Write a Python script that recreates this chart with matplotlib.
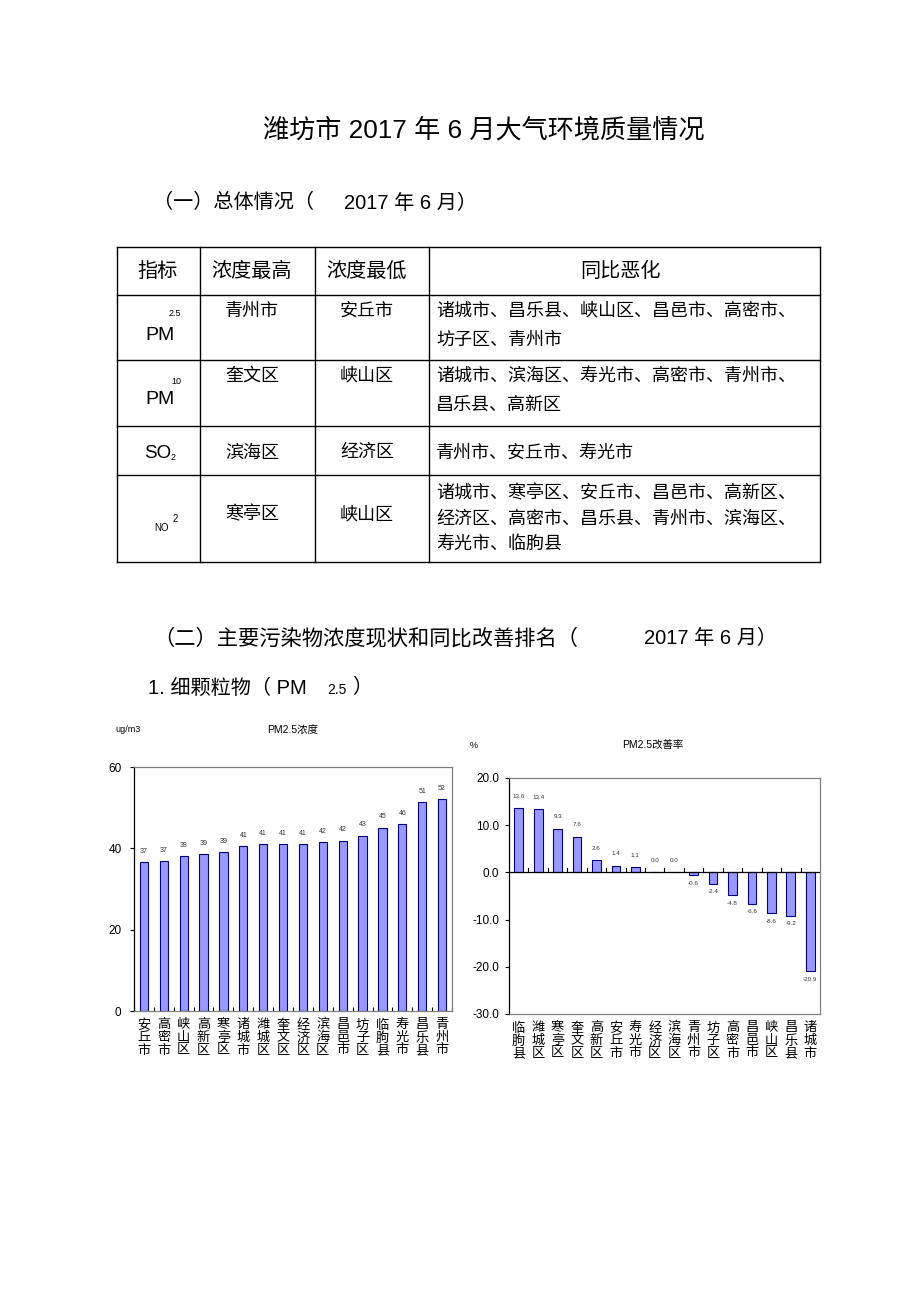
import matplotlib
matplotlib.use('Agg')
import matplotlib.pyplot as plt
import numpy as np

plt.rcParams['font.family'] = ['Liberation Sans', 'Noto Sans CJK SC', 'DejaVu Sans']
plt.rcParams['axes.unicode_minus'] = False

# ---- data ----
conc_names = ['安丘市', '高密市', '峡山区', '高新区', '寒亭区', '诸城市', '潍城区', '奎文区',
              '经济区', '滨海区', '昌邑市', '坊子区', '临朐县', '寿光市', '昌乐县', '青州市']
conc_vals = [36.6, 36.8, 38.1, 38.6, 39.1, 40.6, 41.0, 41.0,
             41.0, 41.5, 41.9, 43.1, 45.1, 46.0, 51.4, 52.1]

rate_names = ['临朐县', '潍城区', '寒亭区', '奎文区', '高新区', '安丘市', '寿光市', '经济区',
              '滨海区', '青州市', '坊子区', '高密市', '昌邑市', '峡山区', '昌乐县', '诸城市']
rate_vals = [13.6, 13.4, 9.3, 7.6, 2.6, 1.4, 1.1, 0.0,
             0.0, -0.6, -2.4, -4.8, -6.6, -8.6, -9.2, -20.9]

table_head = ['指标', '浓度最高', '浓度最低', '同比恶化']
table_high = ['青州市', '奎文区', '滨海区', '寒亭区']
table_low = ['安丘市', '峡山区', '经济区', '峡山区']
table_worse = [['诸城市、昌乐县、峡山区、昌邑市、高密市、', '坊子区、青州市'],
               ['诸城市、滨海区、寿光市、高密市、青州市、', '昌乐县、高新区'],
               ['青州市、安丘市、寿光市'],
               ['诸城市、寒亭区、安丘市、昌邑市、高新区、', '经济区、高密市、昌乐县、青州市、滨海区、',
                '寿光市、临朐县']]

W, H = 920, 1303
fig = plt.figure(figsize=(W / 100, H / 100), dpi=100)
fig.patch.set_facecolor('white')

# page layer in pixel coords
pg = fig.add_axes([0, 0, 1, 1])
pg.set_xlim(0, W)
pg.set_ylim(H, 0)
pg.axis('off')

cjk = ['Noto Sans CJK SC', 'DejaVu Sans']

pg.text(484, 130, '潍坊市 2017 年 6 月大气环境质量情况', fontsize=18.8, ha='center', va='center')

# heading lines, pieces placed by left edge
pg.text(153, 203, '（一）总体情况（', fontsize=14.5, ha='left', va='center', family=cjk)
pg.text(344, 203, '2017 年 6 月）', fontsize=14.5, ha='left', va='center')

# table grid
row_y = [247, 295, 360, 426, 475, 562]
col_x = [117, 200, 315, 429, 820]
for y in row_y:
    pg.plot([col_x[0], col_x[-1]], [y, y], color='black', lw=1)
for x in col_x:
    pg.plot([x, x], [row_y[0], row_y[-1]], color='black', lw=1)

col_c = [158, 252, 367, 620]
for cx, t in zip(col_c, table_head):
    pg.text(cx, 271, t, fontsize=14.5, ha='center', va='center')

top_y = [311, 376, 453, 515]
for i in range(4):
    pg.text(col_c[1], top_y[i], table_high[i], fontsize=13, ha='center', va='center')
    pg.text(col_c[2], top_y[i], table_low[i], fontsize=13, ha='center', va='center')

line_y = [[311, 340], [376, 405], [453], [494, 519, 544]]
for i in range(4):
    for t, y in zip(table_worse[i], line_y[i]):
        pg.text(436, y, t, fontsize=13, ha='left', va='center')

# pollutant names
pg.text(160, 335, 'PM', fontsize=14, ha='center', va='center')
pg.text(175, 314, '2.5', fontsize=6.5, ha='center', va='center')
pg.text(160, 399, 'PM', fontsize=14, ha='center', va='center')
pg.text(176, 381, '10', fontsize=6.5, ha='center', va='center')
pg.text(158, 453, 'SO', fontsize=13.5, ha='center', va='center')
pg.text(173, 457, '2', fontsize=6.5, ha='center', va='center')
pg.text(162, 528, 'NO', fontsize=7, ha='center', va='center')
pg.text(175, 519, '2', fontsize=7, ha='center', va='center')

pg.text(153, 638, '（二）主要污染物浓度现状和同比改善排名（', fontsize=15.3, ha='left', va='center',
        family=cjk)
pg.text(644, 638, '2017 年 6 月）', fontsize=14.5, ha='left', va='center')
pg.text(148, 688, '1. 细颗粒物（ PM', fontsize=14.5, ha='left', va='center')
pg.text(327, 690, '2.5', fontsize=10, ha='left', va='center')
pg.text(352, 688, '）', fontsize=14.5, ha='left', va='center', family=cjk)

bar_face = '#9999ff'
bar_edge = '#000080'
frame_col = '#808080'


def style_frame(ax):
    for s in ax.spines.values():
        s.set_color(frame_col)
        s.set_linewidth(0.9)
    ax.spines['left'].set_color('#000000')


def vert(names):
    return ['\n'.join(n) for n in names]


# ---- left chart: PM2.5 concentration ----
ax1 = fig.add_axes([134 / W, 1 - 1011 / H, (452 - 134) / W, (1011 - 767) / H])
x1 = np.arange(len(conc_vals))
ax1.bar(x1, conc_vals, width=0.42, color=bar_face, edgecolor=bar_edge, linewidth=0.8)
for xi, v in zip(x1, conc_vals):
    ax1.text(xi, v + 1.8, f'{v:.0f}', fontsize=5, ha='center', va='bottom', color='#333333')
ax1.set_xlim(-0.5, len(conc_vals) - 0.5)
ax1.set_ylim(0, 60)
ax1.set_yticks([0, 20, 40, 60])
ax1.tick_params(axis='y', labelsize=8.5, length=3, width=0.8, pad=6)
ax1.set_xticks(x1)
ax1.set_xticklabels(vert(conc_names), fontsize=9.5, linespacing=1.05)
ax1.tick_params(axis='x', length=0, pad=6)
ax1.set_xticks(np.arange(-0.5, len(conc_vals)), minor=True)
ax1.tick_params(axis='x', which='minor', direction='in', length=3, width=0.8)
style_frame(ax1)
pg.text(128, 730, 'ug/m3', fontsize=6.5, ha='center', va='center')
pg.text(293, 730, 'PM2.5浓度', fontsize=7.5, ha='center', va='center')

# ---- right chart: PM2.5 improvement rate ----
ax2 = fig.add_axes([509 / W, 1 - 1014 / H, (820 - 509) / W, (1014 - 778) / H])
x2 = np.arange(len(rate_vals))
ax2.bar(x2, rate_vals, width=0.45, color=bar_face, edgecolor=bar_edge, linewidth=0.8)
for xi, v in zip(x2, rate_vals):
    if v >= 0:
        ax2.text(xi, v + 2.0, f'{v:.1f}', fontsize=4.5, ha='center', va='bottom', color='#333333')
    else:
        ax2.text(xi, v - 1.2, f'{v:.1f}', fontsize=4.5, ha='center', va='top', color='#333333')
ax2.axhline(0, color='black', lw=0.9)
ax2.set_xlim(-0.5, len(rate_vals) - 0.5)
ax2.set_ylim(-30, 20)
ax2.set_yticks([-30, -20, -10, 0, 10, 20])
ax2.set_yticklabels([f'{t:.1f}' for t in [-30, -20, -10, 0, 10, 20]])
ax2.tick_params(axis='y', labelsize=8.5, length=3, width=0.8, pad=4)
ax2.set_xticks(x2)
ax2.set_xticklabels(vert(rate_names), fontsize=9.5, linespacing=1.05)
ax2.tick_params(axis='x', length=0, pad=6)
for b in np.arange(0.5, len(rate_vals) - 0.5):
    ax2.plot([b, b], [0, 0.9], color='black', lw=0.8)
style_frame(ax2)
pg.text(474, 745, '%', fontsize=6.5, ha='center', va='center')
pg.text(653, 745, 'PM2.5改善率', fontsize=7.5, ha='center', va='center')

fig.savefig('out.png', dpi=100, facecolor='white')
